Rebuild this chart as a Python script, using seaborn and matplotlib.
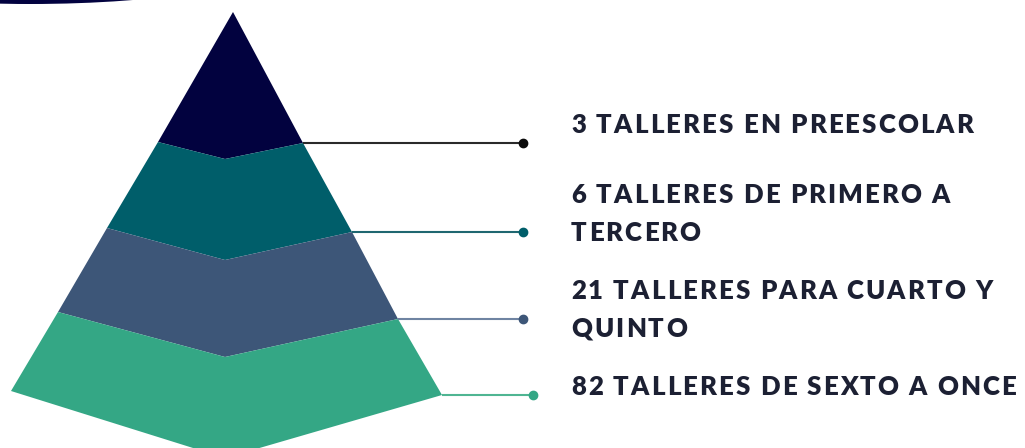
import numpy as np
import matplotlib.pyplot as plt
import seaborn as sns
from matplotlib.patches import Polygon, Ellipse

sns.set_theme(style="white")
plt.rcParams['font.family'] = ['Lato', 'DejaVu Sans']

# Datos del gráfico
niveles = ['Preescolar', 'Primero a tercero', 'Cuarto y quinto', 'Sexto a once']
talleres = [3, 6, 21, 82]
etiquetas = [
    ['3 TALLERES EN PREESCOLAR'],
    ['6 TALLERES DE PRIMERO A', 'TERCERO'],
    ['21 TALLERES PARA CUARTO Y', 'QUINTO'],
    ['82 TALLERES DE SEXTO A ONCE'],
]
colores = ['#02023f', '#005e6a', '#3d5678', '#34a785']
colores_linea = ['#2a2a2a', '#1f6770', '#6f84a2', '#4fb592']
colores_punto = ['#0a0a0a', '#005e6a', '#3d5678', '#34a785']

# Geometría de la pirámide (en píxeles)
apex = (233, 12)
izq = [(158, 142), (107, 228), (58, 312), (11, 391)]
centro = [(225, 159), (225, 260), (225, 357), (225, 458)]
der = [(303, 143), (352, 232), (398, 319), (442, 395)]
fin_linea = [523, 523, 523, 533]
y_texto = [[125], [195, 233], [291, 329], [387]]

fig = plt.figure(figsize=(10.25, 4.48), dpi=100)
ax = fig.add_axes([0, 0, 1, 1])
ax.set_xlim(0, 1025)
ax.set_ylim(448, 0)
ax.axis('off')
renderer = fig.canvas.get_renderer()


def texto_espaciado(x, y, s, espacio=2.0, **kw):
    # dibuja letra por letra para imitar el espaciado amplio
    # (1 unidad de datos en x = 1 px)
    for ch in s:
        t = ax.text(x, y, ch, va='center', ha='left', **kw)
        x += t.get_window_extent(renderer).width + espacio


# Arco decorativo arriba a la izquierda
ax.add_patch(Ellipse((30, -40), 494, 88, color='#02023f', lw=0))

for i in range(len(niveles)):
    if i == 0:
        pts = [apex, der[0], centro[0], izq[0]]
    else:
        pts = [izq[i - 1], centro[i - 1], der[i - 1], der[i], centro[i], izq[i]]
    ax.add_patch(Polygon(pts, closed=True, facecolor=colores[i], edgecolor='none'))

    # línea conectora y punto
    x0, y0 = der[i]
    ax.plot([x0, fin_linea[i]], [y0, y0], color=colores_linea[i], lw=1.5,
            solid_capstyle='butt')
    ax.plot(fin_linea[i], y0, 'o', color=colores_punto[i], ms=6)

    for txt, yt in zip(etiquetas[i], y_texto[i]):
        texto_espaciado(571, yt, txt, espacio=2.1, fontsize=18.5,
                        fontweight='heavy', color='#1c2033')

fig.savefig('out.png', dpi=100)
